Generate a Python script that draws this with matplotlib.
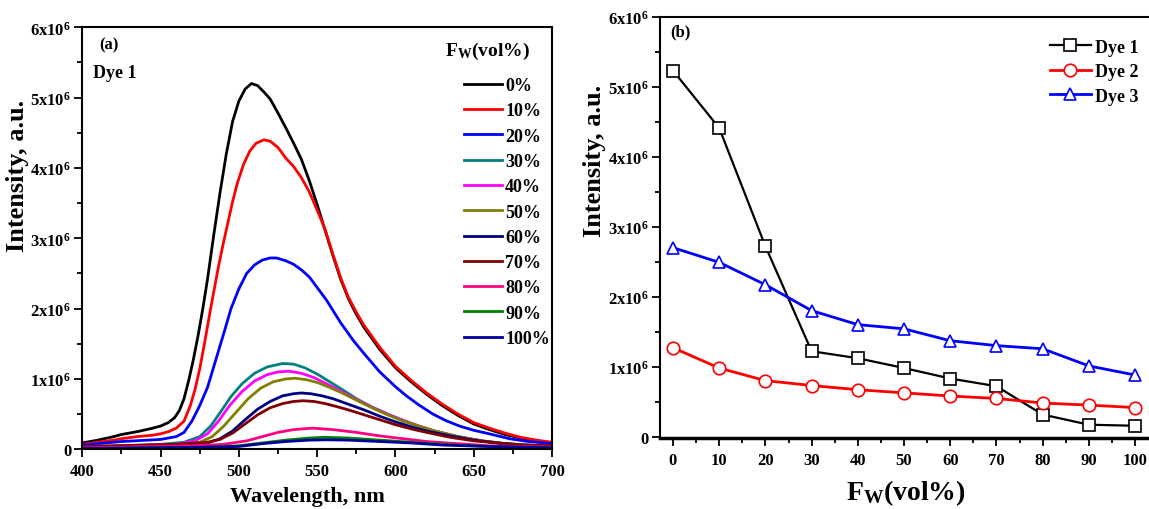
import matplotlib
matplotlib.use('Agg')
import matplotlib.pyplot as plt
from matplotlib.ticker import MultipleLocator, FuncFormatter

plt.rcParams['font.family'] = ['Liberation Serif', 'DejaVu Serif']
plt.rcParams['font.weight'] = 'bold'
plt.rcParams['axes.labelweight'] = 'bold'
plt.rcParams['mathtext.fontset'] = 'custom'
plt.rcParams['mathtext.rm'] = 'Liberation Serif:bold'
plt.rcParams['mathtext.bf'] = 'Liberation Serif:bold'
plt.rcParams['mathtext.it'] = 'Liberation Serif:bold'
plt.rcParams['mathtext.default'] = 'bf'

# ---- panel (a): emission spectra of Dye 1 (intensity in units of 1e6) ----
wl_0 = [400, 410, 420, 425, 435, 445, 450, 455, 459, 462, 465, 468, 471, 474, 477, 480, 484, 488, 492, 496,
        500, 504, 508, 512, 516, 520, 525, 530, 535, 540, 545, 550, 555, 560, 565, 570, 575, 580, 590,
        600, 610, 620, 630, 640, 650, 660, 670, 680, 690, 700]
int_0 = [0.09, 0.13, 0.18, 0.21, 0.25, 0.30, 0.33, 0.38, 0.45, 0.55, 0.72, 0.98, 1.28, 1.62, 2.00, 2.42, 3.05, 3.65, 4.20, 4.66,
         4.95, 5.12, 5.20, 5.17, 5.08, 4.98, 4.78, 4.57, 4.35, 4.12, 3.82, 3.48, 3.12, 2.76, 2.42, 2.14, 1.92, 1.73, 1.42,
         1.16, 0.96, 0.78, 0.62, 0.48, 0.36, 0.28, 0.21, 0.16, 0.12, 0.09]

wl_10 = [400, 410, 420, 425, 435, 445, 450, 455, 460, 465, 469, 472, 475, 478, 482, 487, 490, 493, 496, 499,
         503, 507, 511, 516, 520, 525, 530, 535, 540, 545, 550, 555, 560, 565, 570, 575, 580, 590, 600, 610,
         620, 630, 640, 650, 660, 670, 680, 690, 700]
int_10 = [0.07, 0.10, 0.13, 0.15, 0.18, 0.20, 0.22, 0.25, 0.30, 0.40, 0.62, 0.85, 1.14, 1.50, 2.00, 2.60, 2.92, 3.22, 3.52, 3.78,
          4.05, 4.24, 4.35, 4.40, 4.38, 4.29, 4.14, 4.02, 3.86, 3.66, 3.40, 3.13, 2.78, 2.44, 2.16, 1.95, 1.76, 1.45, 1.18, 0.98,
          0.80, 0.64, 0.50, 0.38, 0.30, 0.23, 0.17, 0.13, 0.10]

wl_20 = [400, 425, 450, 460, 465, 470, 475, 480, 485, 490, 495, 500, 505, 510, 515, 520, 524, 530, 535, 540,
         545, 550, 556, 565, 573, 580, 590, 600, 607, 615, 624, 632, 641, 650, 658, 673, 685, 700]
int_20 = [0.06, 0.11, 0.14, 0.18, 0.24, 0.40, 0.62, 0.88, 1.25, 1.62, 2.00, 2.28, 2.50, 2.62, 2.69, 2.72, 2.72, 2.68, 2.63, 2.55,
          2.45, 2.30, 2.12, 1.80, 1.55, 1.36, 1.10, 0.89, 0.76, 0.63, 0.50, 0.41, 0.33, 0.27, 0.23, 0.15, 0.11, 0.08]

wl_30 = [400, 450, 465, 475, 482, 488, 495, 502, 510, 518, 528, 535, 542, 550, 558, 566, 575, 585, 595,
         605, 615, 625, 640, 655, 670, 685, 700]
int_30 = [0.03, 0.07, 0.10, 0.18, 0.33, 0.52, 0.75, 0.93, 1.08, 1.17, 1.22, 1.21, 1.16, 1.07, 0.96, 0.85, 0.72, 0.60, 0.50,
          0.41, 0.33, 0.26, 0.18, 0.12, 0.08, 0.06, 0.04]

wl_40 = [400, 460, 472, 480, 487, 494, 502, 510, 518, 525, 532, 540, 548, 556, 565, 575, 585, 595, 605,
         615, 625, 640, 655, 670, 700]
int_40 = [0.03, 0.07, 0.12, 0.22, 0.40, 0.62, 0.82, 0.97, 1.06, 1.10, 1.11, 1.08, 1.02, 0.93, 0.83, 0.71, 0.60, 0.50, 0.41,
          0.33, 0.26, 0.18, 0.12, 0.08, 0.04]

wl_50 = [400, 460, 475, 483, 490, 498, 506, 514, 522, 530, 536, 543, 550, 558, 566, 575, 585, 595, 605,
         615, 625, 640, 655, 670, 700]
int_50 = [0.03, 0.06, 0.10, 0.18, 0.32, 0.52, 0.72, 0.87, 0.96, 1.00, 1.01, 0.99, 0.95, 0.88, 0.80, 0.70, 0.59, 0.49, 0.40,
          0.33, 0.26, 0.18, 0.12, 0.08, 0.04]

wl_60 = [400, 460, 480, 488, 496, 504, 512, 520, 528, 535, 540, 546, 553, 560, 570, 580, 590, 600, 610,
         620, 635, 650, 665, 680, 700]
int_60 = [0.02, 0.05, 0.09, 0.15, 0.26, 0.42, 0.57, 0.68, 0.76, 0.79, 0.80, 0.79, 0.76, 0.72, 0.64, 0.56, 0.47, 0.39, 0.32,
          0.26, 0.19, 0.13, 0.09, 0.06, 0.04]

wl_70 = [400, 460, 480, 488, 496, 504, 512, 520, 528, 535, 541, 548, 555, 562, 570, 580, 590, 600, 610,
         620, 635, 650, 665, 680, 700]
int_70 = [0.04, 0.07, 0.10, 0.14, 0.23, 0.36, 0.49, 0.59, 0.65, 0.68, 0.69, 0.68, 0.65, 0.61, 0.56, 0.49, 0.42, 0.35, 0.29,
          0.24, 0.17, 0.12, 0.09, 0.06, 0.05]

wl_80 = [400, 470, 490, 505, 515, 525, 535, 547, 560, 575, 590, 605, 620, 640, 660, 680, 700]
int_80 = [0.02, 0.05, 0.07, 0.12, 0.18, 0.24, 0.28, 0.30, 0.28, 0.24, 0.19, 0.15, 0.11, 0.08, 0.05, 0.04, 0.03]

wl_90 = [400, 480, 500, 515, 530, 545, 555, 570, 590, 610, 630, 660, 700]
int_90 = [0.01, 0.03, 0.05, 0.09, 0.13, 0.16, 0.17, 0.16, 0.13, 0.10, 0.07, 0.04, 0.02]

wl_100 = [400, 480, 500, 515, 530, 545, 556, 570, 590, 610, 630, 660, 700]
int_100 = [0.01, 0.03, 0.04, 0.08, 0.11, 0.13, 0.135, 0.13, 0.11, 0.09, 0.06, 0.04, 0.02]

spectra = [(wl_0, int_0), (wl_10, int_10), (wl_20, int_20), (wl_30, int_30), (wl_40, int_40), (wl_50, int_50),
           (wl_60, int_60), (wl_70, int_70), (wl_80, int_80), (wl_90, int_90), (wl_100, int_100)]
spec_labels = ['0%', '10%', '20%', '30%', '40%', '50%', '60%', '70%', '80%', '90%', '100%']
spec_colors = ['#000000', '#FF0000', '#0000FF', '#008080', '#FF00FF', '#808000',
               '#000080', '#800000', '#FF0080', '#008000', '#0000A0']

# ---- panel (b): peak intensity vs water fraction (units of 1e6) ----
fw = [0, 10, 20, 30, 40, 50, 60, 70, 80, 90, 100]
dye1 = [5.23, 4.41, 2.72, 1.22, 1.12, 0.98, 0.83, 0.72, 0.315, 0.17, 0.155]
dye2 = [1.27, 0.98, 0.80, 0.73, 0.67, 0.625, 0.58, 0.545, 0.48, 0.45, 0.415]
dye3 = [2.70, 2.49, 2.17, 1.80, 1.60, 1.54, 1.37, 1.30, 1.255, 1.01, 0.88]


def sci_fmt(v, pos):
    if abs(v) < 1e-9:
        return '0'
    return '%dx10$^{6}$' % round(v / 1e6)


def style_axis(ax):
    for s in ax.spines.values():
        s.set_linewidth(1.5)
    ax.tick_params(which='both', direction='out', top=False, right=False, width=1.3, labelsize=12, pad=4)
    ax.tick_params(which='major', length=6)
    ax.tick_params(which='minor', length=3.5)
    ax.yaxis.set_major_locator(MultipleLocator(1e6))
    ax.yaxis.set_minor_locator(MultipleLocator(0.5e6))
    ax.yaxis.set_major_formatter(FuncFormatter(sci_fmt))
    ax.tick_params(axis='y', pad=2)


fig = plt.figure(figsize=(11.49, 5.10), dpi=100)

ax1 = fig.add_axes([0.0716, 0.1171, 0.4088, 0.8275])
for (wl, val), lab, col in zip(spectra, spec_labels, spec_colors):
    ax1.plot(wl, [v * 1e6 for v in val], color=col, lw=2, label=lab)
ax1.set_xlim(400, 700)
ax1.set_ylim(0, 6e6)
ax1.xaxis.set_major_locator(MultipleLocator(50))
ax1.xaxis.set_minor_locator(MultipleLocator(25))
style_axis(ax1)
ax1.set_xlabel('Wavelength, nm', fontsize=16)
ax1.xaxis.set_label_coords(0.48, -0.088)
ax1.xaxis.label.set_va('top')
ax1.set_ylabel('Intensity, a.u.', fontsize=19)
ax1.yaxis.set_label_coords(-0.113, 0.65)
ax1.text(0.036, 0.96, '(a)', transform=ax1.transAxes, fontsize=12, va='center', ha='left')
ax1.text(0.023, 0.893, 'Dye 1', transform=ax1.transAxes, fontsize=13, va='center', ha='left')
ax1.text(0.772, 0.945, 'F$_{W}$(vol%)', transform=ax1.transAxes, fontsize=14, va='center', ha='left')
ax1.legend(loc='upper left', bbox_to_anchor=(0.812, 0.882), frameon=False, fontsize=13,
           handlelength=2.1, handletextpad=0.2, labelspacing=0.46, borderaxespad=0, borderpad=0)

ax2 = fig.add_axes([0.5744, 0.1392, 0.4308, 0.8261])
ax2.plot(fw, [v * 1e6 for v in dye1], color='black', lw=1.6, marker='s', ms=8, mfc='white', mec='black',
         mew=1.2, label='Dye 1')
ax2.plot(fw, [v * 1e6 for v in dye2], color='red', lw=2, marker='o', ms=9, mfc='white', mec='red',
         mew=1.2, label='Dye 2')
ax2.plot(fw, [v * 1e6 for v in dye3], color='blue', lw=2, marker='^', ms=9, mfc='white', mec='blue',
         mew=1.2, label='Dye 3')
ax2.set_xlim(-2.81, 104.3)
ax2.set_ylim(-0.02e6, 6e6)
ax2.xaxis.set_major_locator(MultipleLocator(10))
ax2.xaxis.set_minor_locator(MultipleLocator(5))
style_axis(ax2)
ax2.spines['bottom'].set_linewidth(2.5)
ax2.set_xlabel('F$_{W}$(vol%)', fontsize=20)
ax2.xaxis.set_label_coords(0.497, -0.093)
ax2.xaxis.label.set_va('top')
ax2.set_ylabel('Intensity, a.u.', fontsize=19)
ax2.yaxis.set_label_coords(-0.11, 0.66)
ax2.text(0.02, 0.965, '(b)', transform=ax2.transAxes, fontsize=12, va='center', ha='left')
ax2.legend(loc='upper left', bbox_to_anchor=(0.787, 0.948), frameon=False, fontsize=13, numpoints=1,
           handlelength=2.3, handletextpad=0.2, labelspacing=0.42, borderaxespad=0, borderpad=0)

fig.savefig('out.png', dpi=100)
